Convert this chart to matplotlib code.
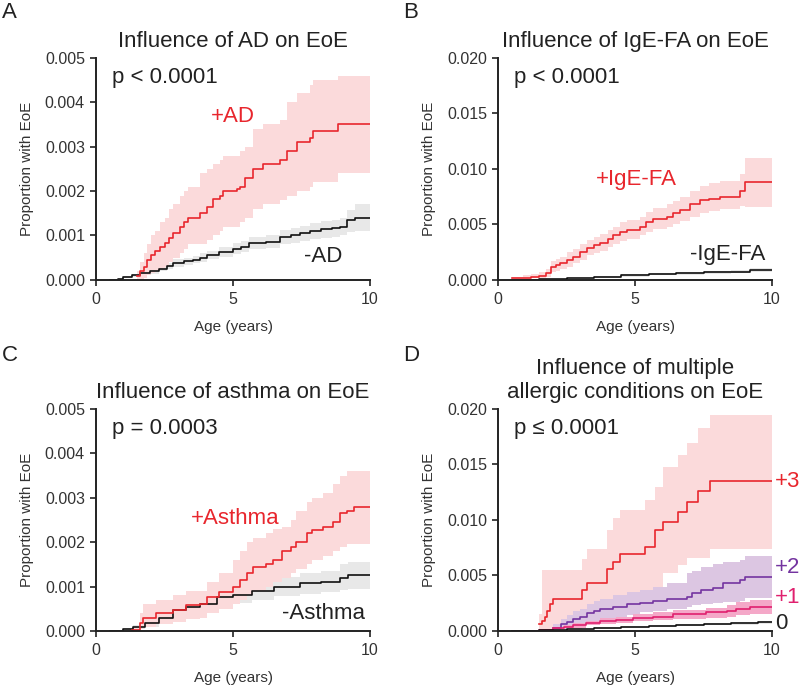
import matplotlib
matplotlib.use('Agg')
import matplotlib.pyplot as plt
from matplotlib.ticker import FormatStrFormatter

plt.rcParams['font.family'] = ['Liberation Sans', 'DejaVu Sans']

RED = '#e8262d'
RED_BAND = '#fbdadb'
GREY_BAND = '#e8e8e8'
PURPLE = '#7434a0'
PURPLE_BAND = '#dcc6e2'
PINK = '#e0206e'
PINK_BAND = '#f4a8c8'
TXT = '#222222'

# ---------------- panel A: atopic dermatitis ----------------
ad_t = [1.48, 1.6, 1.75, 1.85, 2.0, 2.15, 2.34, 2.5, 2.65, 2.82, 3.07, 3.2, 3.37, 3.8, 4.04,
        4.28, 4.53, 4.65, 5.13, 5.26, 5.45, 5.74, 6.1, 6.7, 6.96, 7.32, 7.8, 7.93, 8.84, 10.0]
ad_p = [0.00009, 0.0002, 0.0003, 0.00045, 0.00055, 0.00065, 0.00075, 0.00083, 0.00095, 0.00105,
        0.00118, 0.0013, 0.0014, 0.0015, 0.00165, 0.00182, 0.0019, 0.002, 0.00205, 0.0021,
        0.0023, 0.0025, 0.0026, 0.0027, 0.0029, 0.0031, 0.0032, 0.00335, 0.0035, 0.0035]
ad_hi = [0.0002, 0.0004, 0.0006, 0.0008, 0.001, 0.0011, 0.0013, 0.0014, 0.0016, 0.0017,
         0.0019, 0.002, 0.0021, 0.0024, 0.0025, 0.0026, 0.0027, 0.0028, 0.0028, 0.0029,
         0.003, 0.0034, 0.0035, 0.0036, 0.004, 0.0042, 0.0044, 0.0045, 0.0046, 0.00465]
ad_lo = [0.0, 0.0, 0.00005, 0.0001, 0.00015, 0.0002, 0.00025, 0.0003, 0.0004, 0.0005,
         0.0006, 0.0007, 0.0008, 0.0008, 0.0009, 0.001, 0.0011, 0.0012, 0.0012, 0.0013,
         0.0014, 0.0016, 0.0017, 0.0018, 0.0019, 0.002, 0.0021, 0.0022, 0.0024, 0.0024]

noad_t = [0.5, 0.8, 1.0, 1.3, 1.6, 1.97, 2.3, 2.6, 2.82, 3.2, 3.55, 3.8, 4.04, 4.5, 5.0, 5.3,
          5.6, 6.2, 6.7, 7.1, 7.45, 7.8, 8.2, 8.6, 8.9, 9.15, 9.45, 10.0]
noad_p = [0.0, 0.00002, 0.00006, 0.0001, 0.00015, 0.00019, 0.00025, 0.00032, 0.00038, 0.00042,
          0.00045, 0.0005, 0.00056, 0.00062, 0.0007, 0.00075, 0.00083, 0.00086, 0.00096, 0.001,
          0.00105, 0.0011, 0.00114, 0.00116, 0.0012, 0.00135, 0.00139, 0.00139]
noad_lo = [0.0, 0.00001, 0.00004, 0.00007, 0.00011, 0.00014, 0.00019, 0.00025, 0.0003, 0.00034,
           0.00037, 0.00041, 0.00046, 0.00051, 0.00058, 0.00062, 0.00069, 0.00072, 0.0008, 0.00084,
           0.00088, 0.00092, 0.00095, 0.00097, 0.001, 0.00108, 0.0011, 0.0011]
noad_hi = [0.0, 0.00003, 0.00008, 0.00013, 0.00019, 0.00024, 0.00031, 0.00039, 0.00046, 0.0005,
           0.00054, 0.0006, 0.00066, 0.00073, 0.00082, 0.00088, 0.00097, 0.001, 0.00112, 0.00117,
           0.00122, 0.00128, 0.00133, 0.00136, 0.0014, 0.00158, 0.0017, 0.0017]

# ---------------- panel B: IgE-mediated food allergy ----------------
fa_t = [0.5, 0.9, 1.2, 1.5, 1.77, 1.95, 2.1, 2.26, 2.5, 2.74, 3.0, 3.23, 3.5, 3.72, 4.0, 4.2,
        4.45, 4.7, 5.18, 5.4, 5.67, 6.16, 6.4, 6.65, 7.0, 7.38, 7.7, 8.1, 8.84, 9.0, 10.0]
fa_p = [0.00015, 0.0002, 0.0003, 0.00036, 0.0006, 0.0012, 0.0013, 0.0015, 0.0018, 0.0021,
        0.0025, 0.0029, 0.0031, 0.0033, 0.0037, 0.004, 0.0043, 0.0045, 0.0048, 0.0052, 0.0055,
        0.0057, 0.006, 0.0063, 0.0068, 0.0072, 0.0073, 0.0075, 0.008, 0.0088, 0.0088]
fa_hi = [0.0003, 0.0004, 0.0005, 0.0007, 0.001, 0.0017, 0.0019, 0.0021, 0.0025, 0.0028,
         0.0032, 0.0036, 0.0039, 0.0041, 0.0045, 0.0048, 0.0052, 0.0054, 0.0057, 0.0061, 0.0065,
         0.0068, 0.0071, 0.0075, 0.008, 0.0085, 0.0087, 0.0089, 0.0095, 0.011, 0.011]
fa_lo = [0.00005, 0.0001, 0.00015, 0.0002, 0.0003, 0.0007, 0.0008, 0.001, 0.0012, 0.0015,
         0.0018, 0.0022, 0.0024, 0.0026, 0.003, 0.0032, 0.0035, 0.0037, 0.004, 0.0043, 0.0046,
         0.0048, 0.005, 0.0053, 0.0057, 0.006, 0.0062, 0.0064, 0.0067, 0.0066, 0.0066]

nofa_t = [0.5, 1.5, 2.5, 3.5, 4.5, 5.5, 6.5, 7.5, 8.5, 9.2, 10.0]
nofa_p = [0.0, 0.00005, 0.00015, 0.00028, 0.0004, 0.0005, 0.0006, 0.00068, 0.00075, 0.0009, 0.0009]
nofa_lo = [0.0, 0.00002, 0.0001, 0.0002, 0.0003, 0.0004, 0.00048, 0.00055, 0.0006, 0.0007, 0.0007]
nofa_hi = [0.0, 0.00008, 0.0002, 0.00036, 0.0005, 0.0006, 0.00072, 0.00081, 0.0009, 0.0011, 0.0011]

# ---------------- panel C: asthma ----------------
as_t = [1.3, 1.6, 1.73, 2.2, 2.8, 3.3, 3.8, 4.04, 4.5, 5.0, 5.26, 5.5, 5.74, 6.2, 6.47, 6.8,
        7.1, 7.3, 7.7, 7.9, 8.3, 8.66, 8.9, 9.15, 9.4, 10.0]
as_p = [0.00002, 0.00017, 0.0003, 0.0004, 0.00048, 0.00058, 0.0006, 0.00077, 0.00088, 0.001,
        0.00114, 0.0013, 0.00145, 0.0015, 0.0016, 0.0018, 0.0019, 0.002, 0.0022, 0.00227,
        0.00235, 0.00246, 0.00265, 0.0027, 0.0028, 0.0028]
as_hi = [0.0001, 0.0004, 0.0006, 0.0007, 0.0008, 0.0009, 0.0009, 0.0011, 0.0013, 0.0016,
         0.0018, 0.002, 0.0021, 0.0022, 0.0023, 0.00235, 0.0025, 0.0027, 0.0029, 0.003,
         0.0031, 0.0033, 0.0035, 0.0036, 0.0036, 0.0036]
as_lo = [0.0, 0.00005, 0.0001, 0.00015, 0.0002, 0.00028, 0.0003, 0.0004, 0.0005, 0.0006,
         0.0007, 0.0008, 0.0009, 0.001, 0.0011, 0.0012, 0.0013, 0.0014, 0.0015, 0.0016,
         0.0017, 0.0018, 0.0019, 0.00195, 0.00195, 0.00195]

noas_t = [0.5, 1.0, 1.36, 1.8, 2.3, 2.8, 3.3, 3.8, 4.4, 5.0, 5.7, 6.5, 7.45, 8.2, 8.9, 9.2, 10.0]
noas_p = [0.0, 0.00004, 0.00009, 0.00018, 0.0003, 0.00047, 0.00055, 0.0006, 0.00077, 0.0008,
          0.0009, 0.001, 0.00107, 0.0011, 0.0012, 0.00126, 0.00126]
noas_lo = [0.0, 0.00002, 0.00005, 0.0001, 0.0002, 0.00035, 0.00042, 0.00047, 0.0006, 0.00063,
           0.0007, 0.00078, 0.00084, 0.00087, 0.00093, 0.00095, 0.00095]
noas_hi = [0.0, 0.00006, 0.00013, 0.00026, 0.0004, 0.0006, 0.00068, 0.00074, 0.00094, 0.00098,
           0.0011, 0.00122, 0.0013, 0.00135, 0.0015, 0.00155, 0.00155]

# ---------------- panel D: number of allergic conditions ----------------
c3_t = [1.5, 1.6, 1.7, 1.8, 1.9, 2.0, 3.05, 3.23, 3.96, 4.2, 4.45, 5.37, 5.73, 6.04, 6.58,
        6.9, 7.3, 7.72, 10.0]
c3_p = [0.0006, 0.0009, 0.0013, 0.0018, 0.0024, 0.0029, 0.0037, 0.0043, 0.0056, 0.0062, 0.0069,
        0.0076, 0.0091, 0.0098, 0.0107, 0.0116, 0.0126, 0.0135, 0.0135]
c3_hi = [0.0015, 0.0055, 0.0055, 0.0055, 0.0055, 0.0055, 0.0065, 0.0074, 0.0091, 0.0102, 0.0109,
         0.0118, 0.013, 0.0148, 0.0159, 0.0169, 0.0183, 0.0195, 0.0195]
c3_lo = [0.0, 0.0, 0.0, 0.0, 0.0, 0.0, 0.0005, 0.0008, 0.0015, 0.0018, 0.0022, 0.0027, 0.0035,
         0.0052, 0.0059, 0.0066, 0.0066, 0.0074, 0.0074]

c2_t = [2.0, 2.3, 2.5, 2.74, 3.0, 3.23, 3.5, 3.72, 4.2, 4.7, 5.18, 5.67, 6.16, 6.88, 7.08,
        7.4, 7.85, 8.2, 8.83, 9.0, 10.0]
c2_p = [0.0003, 0.0006, 0.0008, 0.0011, 0.0013, 0.0016, 0.0018, 0.002, 0.0022, 0.0024, 0.00255,
        0.0027, 0.0029, 0.0031, 0.00345, 0.0037, 0.0039, 0.0043, 0.0046, 0.0049, 0.0049]
c2_hi = [0.0006, 0.0011, 0.0014, 0.0018, 0.002, 0.0024, 0.0027, 0.0029, 0.0032, 0.0035, 0.0037,
         0.004, 0.0043, 0.0052, 0.0054, 0.0058, 0.006, 0.0062, 0.0064, 0.0068, 0.0068]
c2_lo = [0.0001, 0.0002, 0.0003, 0.0005, 0.0006, 0.0008, 0.0009, 0.0011, 0.0012, 0.0014, 0.0017,
         0.0018, 0.002, 0.0022, 0.0023, 0.0024, 0.0025, 0.0026, 0.0027, 0.003, 0.003]

c1_t = [0.5, 1.5, 2.0, 2.4, 2.74, 3.2, 3.72, 4.3, 4.94, 5.67, 6.4, 7.6, 8.35, 8.7, 9.2, 10.0]
c1_p = [0.0, 0.0001, 0.0003, 0.0004, 0.0005, 0.0007, 0.0009, 0.001, 0.0012, 0.0013, 0.0015,
        0.0017, 0.0018, 0.002, 0.0022, 0.0022]
c1_lo = [0.0, 0.00005, 0.0002, 0.0003, 0.0003, 0.0005, 0.0006, 0.0007, 0.0009, 0.001, 0.0011,
         0.0012, 0.0013, 0.0014, 0.0015, 0.0015]
c1_hi = [0.0, 0.0002, 0.0004, 0.0005, 0.0007, 0.0009, 0.0012, 0.0013, 0.0015, 0.0017, 0.0019,
         0.0021, 0.0023, 0.0026, 0.0028, 0.0028]

c0_t = [0.5, 1.5, 2.5, 3.5, 4.5, 5.5, 6.5, 7.5, 8.5, 9.5, 10.0]
c0_p = [0.0, 0.00005, 0.00015, 0.00025, 0.00035, 0.00045, 0.00055, 0.00065, 0.0007, 0.00078, 0.00078]
c0_lo = [0.0, 0.00002, 0.0001, 0.00018, 0.00027, 0.00036, 0.00045, 0.00054, 0.00058, 0.00065, 0.00065]
c0_hi = [0.0, 0.00008, 0.0002, 0.00032, 0.00043, 0.00054, 0.00065, 0.00076, 0.00082, 0.00091, 0.00091]


def km(ax, t, p, lo, hi, color, band, lw=1.2):
    ax.fill_between(t, lo, hi, step='post', color=band, lw=0)
    ax.step(t, p, where='post', color=color, lw=lw)


def style(ax, ymax, title, ptext):
    ax.set_xlim(0, 10)
    ax.set_ylim(0, ymax)
    ax.set_xticks([0, 5, 10])
    ax.set_yticks([ymax * i / 5 for i in range(6)] if ymax < 0.01 else [0, 0.005, 0.01, 0.015, 0.02])
    ax.yaxis.set_major_formatter(FormatStrFormatter('%.3f'))
    for s in ['top', 'right']:
        ax.spines[s].set_visible(False)
    for s in ['left', 'bottom']:
        ax.spines[s].set_linewidth(1.4)
        ax.spines[s].set_color('#222222')
    ax.tick_params(direction='out', length=4, width=1.2, labelsize=11.5, colors='#222222',
                   labelcolor='#333333', pad=4)
    ax.tick_params(axis='x', pad=5)
    ax.set_xlabel('Age (years)', fontsize=11, color='#333333', labelpad=9)
    ax.set_ylabel('Proportion with EoE', fontsize=11, color='#333333', labelpad=8)
    ax.set_title(title, fontsize=16, color=TXT, pad=8, linespacing=1.2)
    ax.text(0.58, ymax * 0.91, ptext, fontsize=16, color=TXT, va='center', ha='left')


fig = plt.figure(figsize=(8, 6.86), dpi=100)
w, h = 0.3425, 0.3236
axA = fig.add_axes([0.12, 0.592, w, h])
axB = fig.add_axes([0.6225, 0.592, w, h])
axC = fig.add_axes([0.12, 0.0802, w, h])
axD = fig.add_axes([0.6225, 0.0802, w, h])

# A
km(axA, noad_t, noad_p, noad_lo, noad_hi, '#111111', GREY_BAND)
km(axA, ad_t, ad_p, ad_lo, ad_hi, RED, RED_BAND)
style(axA, 0.005, 'Influence of AD on EoE', 'p < 0.0001')
axA.text(5.0, 0.00368, '+AD', color=RED, fontsize=16, ha='center', va='center')
axA.text(8.3, 0.00053, '-AD', color=TXT, fontsize=16, ha='center', va='center')

# B
km(axB, nofa_t, nofa_p, nofa_lo, nofa_hi, '#111111', GREY_BAND)
km(axB, fa_t, fa_p, fa_lo, fa_hi, RED, RED_BAND)
style(axB, 0.02, 'Influence of IgE-FA on EoE', 'p < 0.0001')
axB.text(5.06, 0.009, '+IgE-FA', color=RED, fontsize=16, ha='center', va='center')
axB.text(8.38, 0.0023, '-IgE-FA', color=TXT, fontsize=16, ha='center', va='center')

# C
km(axC, noas_t, noas_p, noas_lo, noas_hi, '#111111', GREY_BAND)
km(axC, as_t, as_p, as_lo, as_hi, RED, RED_BAND)
style(axC, 0.005, 'Influence of asthma on EoE', 'p = 0.0003')
axC.text(5.07, 0.00254, '+Asthma', color=RED, fontsize=16, ha='center', va='center')
axC.text(8.32, 0.00039, '-Asthma', color=TXT, fontsize=16, ha='center', va='center')

# D
km(axD, c3_t, c3_p, c3_lo, c3_hi, RED, RED_BAND)
km(axD, c2_t, c2_p, c2_lo, c2_hi, PURPLE, PURPLE_BAND)
km(axD, c1_t, c1_p, c1_lo, c1_hi, PINK, PINK_BAND)
km(axD, c0_t, c0_p, c0_lo, c0_hi, '#111111', GREY_BAND)
style(axD, 0.02, 'Influence of multiple\nallergic conditions on EoE', 'p \u2264 0.0001')
for lab, yv, col in [('+3', 0.0135, RED), ('+2', 0.0057, PURPLE), ('+1', 0.0030, PINK), ('0', 0.0007, TXT)]:
    axD.text(10.12, yv, lab, color=col, fontsize=16, ha='left', va='center', clip_on=False)

for lab, x, y in [('A', 0.002, 0.997), ('B', 0.504, 0.997), ('C', 0.002, 0.497), ('D', 0.504, 0.497)]:
    fig.text(x, y, lab, fontsize=16, color=TXT, ha='left', va='top')

fig.savefig('out.png', dpi=100)
